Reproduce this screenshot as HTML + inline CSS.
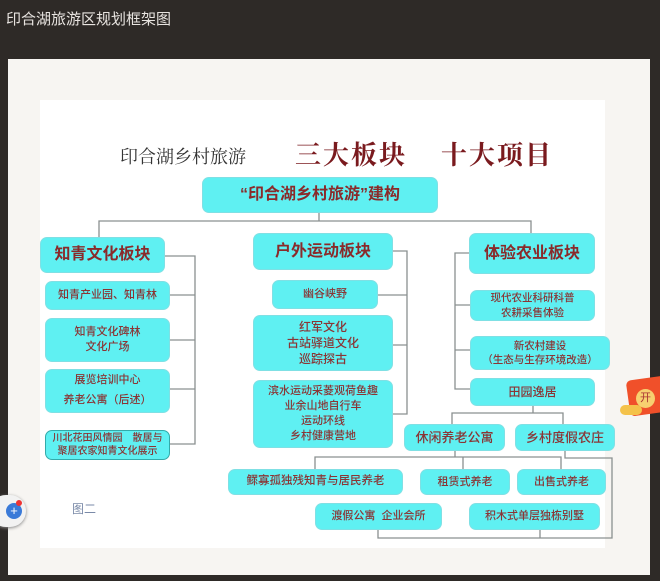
<!DOCTYPE html>
<html><head><meta charset="utf-8"><style>
*{margin:0;padding:0;box-sizing:border-box}
body{width:660px;height:581px;background:#2e2a27;position:relative;overflow:hidden;font-family:"Liberation Sans","Noto Sans CJK SC",sans-serif}
.t{position:absolute;left:6px;top:8px;color:#e8e4e0;font-size:15px}
.paper{position:absolute;left:8px;top:59px;width:642px;height:516px;background:#f7f5f2}
.inner{position:absolute;left:40px;top:100px;width:565px;height:448px;background:#fff}
.b{position:absolute;background:#5ff0f2;border-radius:7px;color:#8a3535;font-weight:500;display:flex;align-items:center;justify-content:center;text-align:center;font-size:11px;line-height:1.35;border:1px solid #7fe0e4}
.h{font-size:16px;font-weight:bold;color:#8a2a2a}
svg{position:absolute;left:0;top:0}
</style></head><body>
<div class="t">印合湖旅游区规划框架图</div>
<div class="paper"></div>
<div class="inner"></div>
<div style="position:absolute;left:120px;top:143px;font-family:'Noto Serif CJK SC',serif;font-size:18px;color:#333">印合湖乡村旅游</div>
<div style="position:absolute;left:295px;top:135px;font-family:'Noto Serif CJK SC',serif;font-size:26px;font-weight:bold;color:#7a1a1e;letter-spacing:2px">三大板块&nbsp;&nbsp;&nbsp;&nbsp;十大项目</div>
<svg width="660" height="581" fill="none" stroke="#8a9090" stroke-width="1.3">
<path d="M319 213V221M99 237V221H531V233"/>
<path d="M165 256H195V444H170M170 295H195M170 340H195M170 389H195"/>
<path d="M393 251H407V414H393M378 295H407M393 345H407"/>
<path d="M469 253H455V389H470M455 305H470M455 350H470"/>
<path d="M533 406V413M452 424V413H563V424"/>
<path d="M455 451V457M315 469V457H561V469M463 457V469"/>
<path d="M565 451V458H612V538H378V530M540 538V530"/>
</svg>
<div class="b h" style="left:202px;top:177px;width:236px;height:36px">“印合湖乡村旅游”建构</div>
<div class="b h" style="left:40px;top:237px;width:125px;height:36px">知青文化板块</div>
<div class="b" style="left:45px;top:281px;width:125px;height:29px">知青产业园、知青林</div>
<div class="b" style="left:45px;top:318px;width:125px;height:44px">知青文化碑林<br>文化广场</div>
<div class="b" style="left:45px;top:369px;width:125px;height:44px;line-height:1.8">展览培训中心<br>养老公寓（后述）</div>
<div class="b" style="left:45px;top:430px;width:125px;height:30px;font-size:10px;line-height:1.3;border-color:#3aa">川北花田风情园　散居与<br>聚居农家知青文化展示</div>
<div class="b h" style="left:253px;top:233px;width:140px;height:37px">户外运动板块</div>
<div class="b" style="left:272px;top:280px;width:106px;height:29px">幽谷峡野</div>
<div class="b" style="left:253px;top:315px;width:140px;height:56px;font-size:12px">红军文化<br>古站驿道文化<br>巡踪探古</div>
<div class="b" style="left:253px;top:380px;width:140px;height:68px">滨水运动采菱观荷鱼趣<br>业余山地自行车<br>运动环线<br>乡村健康营地</div>
<div class="b h" style="left:469px;top:233px;width:126px;height:41px">体验农业板块</div>
<div class="b" style="left:470px;top:290px;width:125px;height:31px;font-size:10.5px">现代农业科研科普<br>农耕采售体验</div>
<div class="b" style="left:470px;top:336px;width:140px;height:34px;font-size:10.5px">新农村建设<br>（生态与生存环境改造）</div>
<div class="b" style="left:470px;top:378px;width:125px;height:28px;font-size:12px">田园逸居</div>
<div class="b" style="left:404px;top:424px;width:101px;height:27px;font-size:13px">休闲养老公寓</div>
<div class="b" style="left:515px;top:424px;width:100px;height:27px;font-size:13px">乡村度假农庄</div>
<div class="b" style="left:228px;top:469px;width:175px;height:26px;font-size:11.5px">鳏寡孤独残知青与居民养老</div>
<div class="b" style="left:420px;top:469px;width:90px;height:26px">租赁式养老</div>
<div class="b" style="left:517px;top:469px;width:89px;height:26px">出售式养老</div>
<div class="b" style="left:315px;top:503px;width:127px;height:27px">渡假公寓&nbsp;&nbsp;企业会所</div>
<div class="b" style="left:469px;top:503px;width:131px;height:27px">积木式单层独栋别墅</div>
<div style="position:absolute;left:72px;top:500px;color:#7a8aa8;font-size:12px">图二</div>
<div style="position:absolute;left:-10px;top:495px;width:36px;height:32px;border-radius:16px;background:#f2f2f2;box-shadow:0 1px 3px #888"></div>
<div style="position:absolute;left:6px;top:503px;width:16px;height:16px;border-radius:8px;background:#3a7ad8;color:#fff;font-size:13px;line-height:16px;text-align:center">+</div>
<div style="position:absolute;left:16px;top:500px;width:6px;height:6px;border-radius:3px;background:#e33"></div>
<div style="position:absolute;left:628px;top:378px;width:40px;height:36px;border-radius:5px;background:#f0502a;transform:rotate(-8deg)"></div>
<div style="position:absolute;left:636px;top:389px;width:19px;height:19px;border-radius:10px;background:#f7d070;color:#a33;font-size:11px;line-height:19px;text-align:center">开</div>
<div style="position:absolute;left:620px;top:405px;width:22px;height:10px;border-radius:5px;background:#f4c24a"></div>
</body></html>
